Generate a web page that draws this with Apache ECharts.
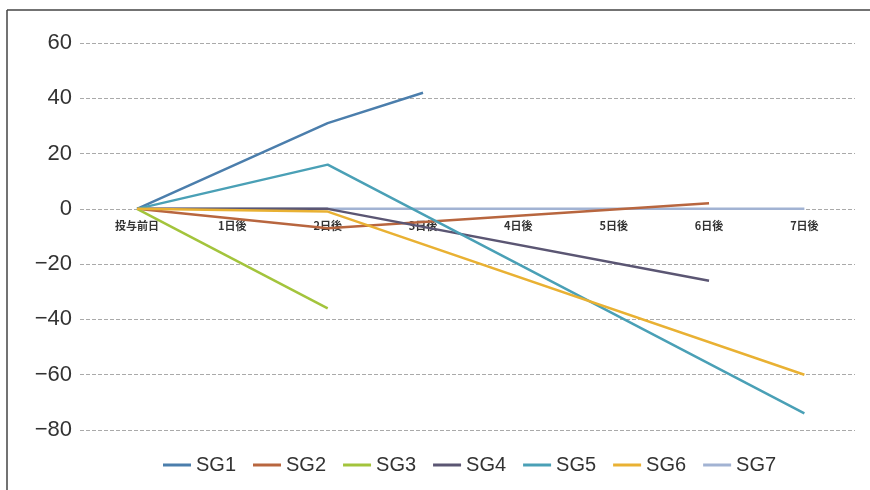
<!DOCTYPE html>
<html><head><meta charset="utf-8">
<script src="https://cdn.jsdelivr.net/npm/echarts@6/dist/echarts.min.js"></script>
<style>html,body{margin:0;padding:0;background:#fff}#c{width:870px;height:490px}</style>
</head><body><div id="c"></div>
<script>
const categories = ['投与前日', '1日後', '2日後', '3日後', '4日後', '5日後', '6日後', '7日後'];
const seriesNames = ['SG1', 'SG2', 'SG3', 'SG4', 'SG5', 'SG6', 'SG7'];
const sg1 = [0, null, 31, 42, null, null, null, null];
const sg2 = [0, null, -7, null, null, null, 2, null];
const sg3 = [0, null, -36, null, null, null, null, null];
const sg4 = [0, null, 0, null, null, null, -26, null];
const sg5 = [0, null, 16, null, null, null, null, -74];
const sg6 = [0, null, -1, null, null, null, null, -60];
const sg7 = [0, null, null, null, null, null, null, 0];
const yTicks = [60, 40, 20, 0, -20, -40, -60, -80];

const colors = ['#4b7eac', '#b8663f', '#a3c43c', '#5b5673', '#4aa0b6', '#e9b133', '#a2b3d3'];
const allData = [sg1, sg2, sg3, sg4, sg5, sg6, sg7];
const yMin = yTicks[yTicks.length - 1], yMax = yTicks[0];

const chart = echarts.init(document.getElementById('c'));
const series = allData.map((arr, i) => ({
  name: seriesNames[i],
  type: 'line',
  data: arr.map((v, k) => v === null ? null : [k, v]).filter(d => d !== null),
  showSymbol: false,
  symbol: 'none',
  lineStyle: { width: 2.5, color: colors[i] },
  itemStyle: { color: colors[i] },
  z: i === 6 ? 1 : 2
}));

chart.setOption({
  backgroundColor: '#fff',
  animation: false,
  grid: { left: 80, right: 15, top: 43, bottom: 60 },
  legend: {
    data: seriesNames,
    bottom: 10,
    left: 158,
    icon: 'rect',
    itemWidth: 28,
    itemHeight: 3,
    itemGap: 17,
    textStyle: { fontSize: 20, color: '#333', fontFamily: 'Liberation Sans' }
  },
  xAxis: {
    type: 'value',
    min: -0.598,
    max: 7.531,
    axisLine: { show: false, onZero: true },
    axisTick: { show: false },
    splitLine: { show: false },
    axisLabel: {
      customValues: categories.map((c, i) => i),
      formatter: v => categories[Math.round(v)] || '',
      fontSize: 11,
      fontWeight: 'bold',
      color: '#333',
      margin: 11,
      fontFamily: 'Noto Sans CJK JP'
    }
  },
  yAxis: {
    type: 'value',
    min: yMin,
    max: yMax,
    interval: 20,
    axisLine: { show: false, onZero: false },
    axisTick: { show: false },
    splitLine: { lineStyle: { color: '#aaa', type: [4, 2], width: 1 } },
    axisLabel: {
      fontSize: 22,
      color: '#333',
      margin: 8,
      fontFamily: 'Liberation Sans',
      formatter: v => (v < 0 ? '\u2212' + Math.abs(v) : String(v))
    }
  },
  graphic: [
    { type: 'line', shape: { x1: 7, y1: 10, x2: 870, y2: 10 }, style: { stroke: '#444', lineWidth: 1.5 } },
    { type: 'line', shape: { x1: 7, y1: 10, x2: 7, y2: 490 }, style: { stroke: '#444', lineWidth: 1.5 } }
  ],
  series: series
});

// place the category labels just under the zero line, using the library's own y scale
const yZero = chart.convertToPixel({ yAxisIndex: 0 }, 0);
const yBottom = chart.convertToPixel({ yAxisIndex: 0 }, yMin);
chart.setOption({ xAxis: { offset: yZero - yBottom } });
</script></body></html>
